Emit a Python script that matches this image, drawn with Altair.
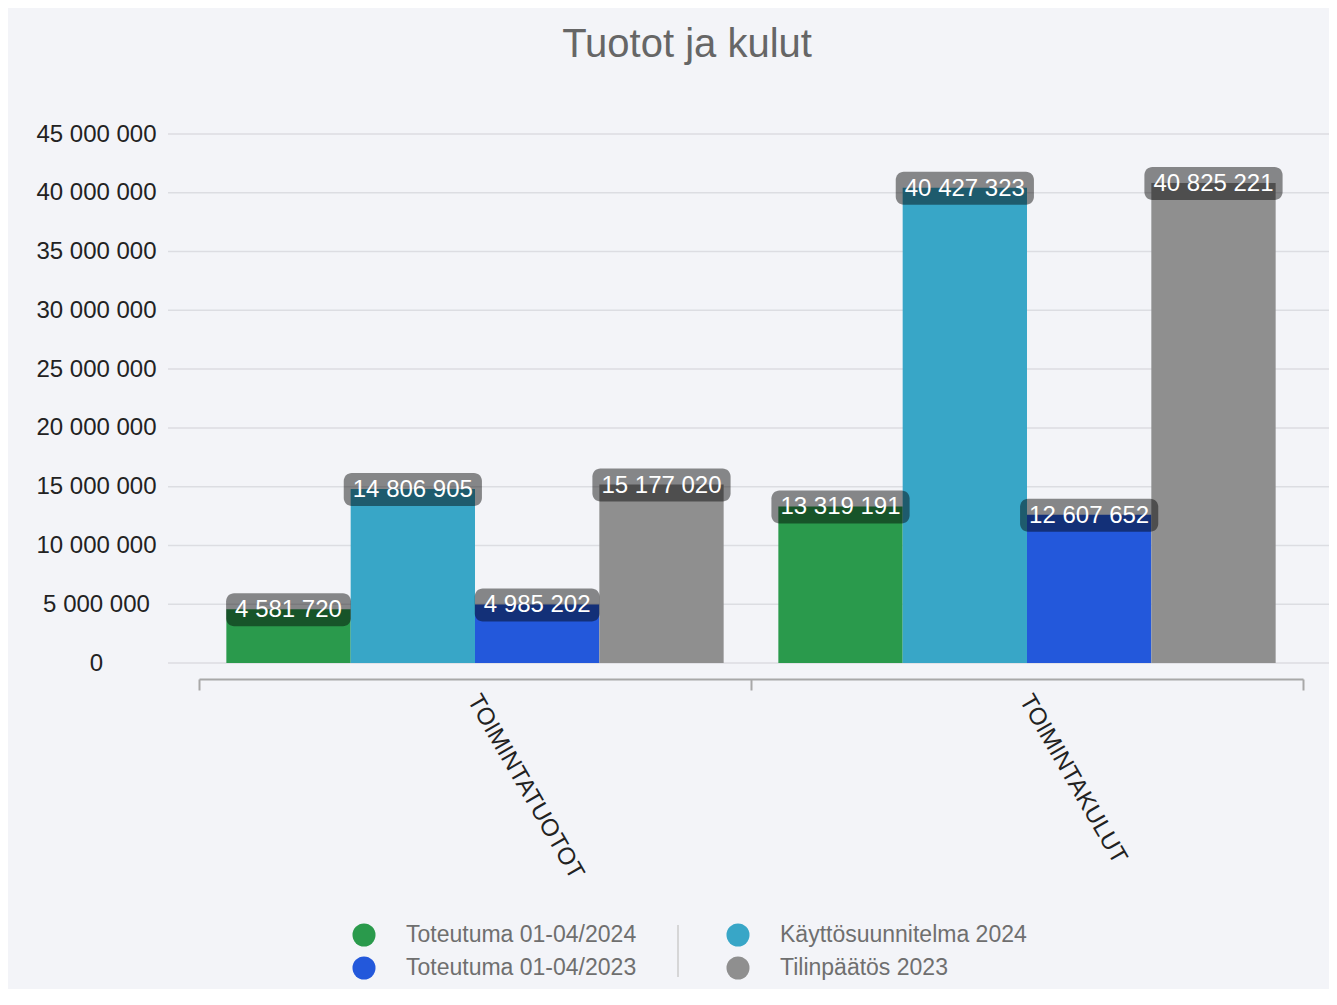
import altair as alt
import pandas as pd

categories = ["TOIMINTATUOTOT", "TOIMINTAKULUT"]
series = ["Toteutuma 01-04/2024", "Käyttösuunnitelma 2024", "Toteutuma 01-04/2023", "Tilinpäätös 2023"]
toteutuma_2024 = [4581720, 13319191]
kayttosuunnitelma_2024 = [14806905, 40427323]
toteutuma_2023 = [4985202, 12607652]
tilinpaatos_2023 = [15177020, 40825221]
y_ticks = [0, 5000000, 10000000, 15000000, 20000000, 25000000, 30000000, 35000000, 40000000, 45000000]
colors = ["#2a9a4c", "#38a6c7", "#2358db", "#8f8f8f"]

rows = []
for s, vals in zip(series, [toteutuma_2024, kayttosuunnitelma_2024, toteutuma_2023, tilinpaatos_2023]):
    for c, v in zip(categories, vals):
        rows.append({"category": c, "series": s, "value": v,
                     "label": f"{v:,}".replace(",", " ")})
df = pd.DataFrame(rows)

FONT = "Liberation Sans"
yscale = alt.Scale(domain=[0, 45000000], nice=False)
yaxis = alt.Axis(title=None, values=y_ticks, grid=False, domain=False, ticks=False,
                 tickSize=0, labelPadding=103, labelAlign="center",
                 labelBaseline="middle", labelFontSize=24, labelColor="#222222",
                 labelFont=FONT, labelOverlap=False,
                 labelExpr="replace(replace(format(datum.value, ','), ',', ' '), ',', ' ')")

base = alt.Chart(df).encode(
    x=alt.X("category:N", sort=categories,
            scale=alt.Scale(paddingInner=0, paddingOuter=0),
            axis=alt.Axis(title=None, offset=16, domainColor="#a8a8a8", domainWidth=2,
                          tickBand="extent", tickSize=11, tickColor="#a8a8a8", tickWidth=2,
                          labelAngle=60, labelAlign="left", labelBaseline="top",
                          labelFontSize=24, labelColor="#222222", labelFont=FONT,
                          labelPadding=0, labelOffset=8, labelLimit=500, grid=False)),
    xOffset=alt.XOffset("series:N", sort=series,
                        scale=alt.Scale(paddingInner=0, paddingOuter=0.22)),
)

grid = alt.Chart(pd.DataFrame({"tick": y_ticks})).mark_rule(
    color="#dcdde2", strokeWidth=1.5
).encode(
    y=alt.Y("tick:Q", scale=yscale, axis=yaxis),
    x=alt.value(-31),
    x2=alt.value(1140),
)

bars = base.mark_bar().encode(
    y=alt.Y("value:Q", scale=yscale, axis=yaxis),
    color=alt.Color("series:N", sort=series,
                    scale=alt.Scale(domain=series, range=colors),
                    legend=alt.Legend(title=None, orient="none", legendX=153, legendY=789,
                                      direction="horizontal", columns=2, symbolType="circle",
                                      symbolSize=530, symbolStrokeWidth=0, symbolOpacity=1,
                                      labelFontSize=23, labelColor="#6f6f6f", labelFont=FONT,
                                      labelOffset=30, columnPadding=89, rowPadding=9,
                                      labelLimit=500)),
)

boxes = base.transform_calculate(
    ndig="length(replace(replace(datum.label, ' ', ''), ' ', ''))",
).transform_calculate(
    boxw="datum.ndig * 13.35 + (length(datum.label) - datum.ndig) * 6.7 + 18",
).mark_bar(cornerRadius=8, yOffset=-16, y2Offset=17, color="black", opacity=0.45).encode(
    y=alt.Y("value:Q", scale=yscale, axis=yaxis),
    y2=alt.Y2("value:Q"),
    size=alt.Size("boxw:Q", scale=None, legend=None),
)

texts = base.mark_text(color="white", fontSize=24, font=FONT, baseline="middle", dy=1).encode(
    y=alt.Y("value:Q", scale=yscale, axis=yaxis),
    text="label:N",
)

sep = alt.Chart(pd.DataFrame({"a": [0]})).mark_rule(color="#cccccc", strokeWidth=1.5).encode(
    x=alt.value(479),
    y=alt.value(791),
    y2=alt.value(843),
)

chart = alt.layer(grid, bars, boxes, texts, sep).properties(
    width=1104,
    height=529,
    autosize=alt.AutoSizeParams(type="none"),
    padding={"left": 191, "top": 126, "right": 26, "bottom": 326},
    title=alt.TitleParams("Tuotot ja kulut", fontSize=40, font=FONT, fontWeight="normal",
                          color="#666666", anchor="middle", dx=-64, offset=25,
                          baseline="alphabetic"),
).configure(
    background="#f3f4f8",
).configure_view(
    stroke=None,
)

chart.save("out.html", embed_options={"renderer": "svg", "actions": False})
